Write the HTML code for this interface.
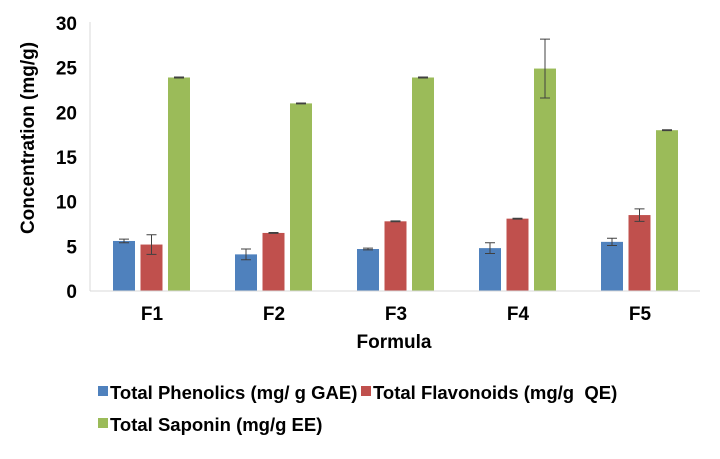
<!DOCTYPE html>
<html><head><meta charset="utf-8"><style>
body{margin:0;background:#fff;width:720px;height:454px;overflow:hidden;font-family:"Liberation Sans",Arial,sans-serif}
svg text{font-family:"Liberation Sans",Arial,sans-serif;font-weight:bold;fill:#000}
</style></head><body>
<svg id="chart" width="720" height="454" xmlns="http://www.w3.org/2000/svg"></svg>
<script>
const categories=["F1","F2","F3","F4","F5"];
const phenolics=[5.6,4.1,4.7,4.8,5.5];
const phenolicsErr=[0.2,0.6,0.1,0.6,0.4];
const flavonoids=[5.2,6.5,7.8,8.1,8.5];
const flavonoidsErr=[1.1,0.05,0.05,0.05,0.7];
const saponin=[23.9,21.0,23.9,24.9,18.0];
const saponinErr=[0.05,0.05,0.05,3.3,0.05];
const yTicks=[0,5,10,15,20,25,30];
const seriesNames=["Total Phenolics (mg/ g GAE)","Total Flavonoids (mg/g\u00a0 QE)","Total Saponin (mg/g EE)"];
const colors=["#4f81bd","#c0504d","#9bbb59"];

const svg=document.getElementById('chart');
const NS="http://www.w3.org/2000/svg";
const x0=90,x1=700,y0=291,y1=23,ymax=30;
const yS=v=>y0-(v/ymax)*(y0-y1);
const bw=(x1-x0)/categories.length;
function mk(t,a){const e=document.createElementNS(NS,t);for(const k in a)e.setAttribute(k,a[k]);svg.appendChild(e);return e;}
let ax=mk('line',{x1:x0,y1:y1-1,x2:x0,y2:y0,stroke:'#d9d9d9','stroke-width':1});


yTicks.forEach(v=>{const t=mk('text',{x:x0-13,y:yS(v)+7,'text-anchor':'end','font-size':19});t.textContent=v;

});
const series=[[phenolics,phenolicsErr],[flavonoids,flavonoidsErr],[saponin,saponinErr]];
categories.forEach((c,i)=>{
  const cx=x0+bw*i;
  series.forEach((s,j)=>{
    const bx=cx+23+j*27.5,w=22,v=s[0][i],e=s[1][i];
    const r=mk('rect',{x:bx,y:yS(v),width:w,height:y0-yS(v),fill:colors[j]});
    
    
    const mx=bx+w/2;
    const g=mk('path',{d:`M${mx},${yS(v+e)}V${yS(v-e)}M${mx-5},${yS(v+e)}H${mx+5}M${mx-5},${yS(v-e)}H${mx+5}`,stroke:'#404040','stroke-width':1,fill:'none'});
    
    
  });
  const t=mk('text',{x:cx+bw/2+1,y:320,'text-anchor':'middle','font-size':19});t.textContent=c;
  
  
});
let xa=mk('line',{x1:x0,y1:y0,x2:x1,y2:y0,stroke:'#d9d9d9','stroke-width':1});


let xt=mk('text',{x:394,y:348,'text-anchor':'middle','font-size':19});xt.textContent="Formula";


let yt=mk('text',{x:0,y:0,'text-anchor':'middle','font-size':19,transform:'translate(34,138) rotate(-90)'});yt.textContent="Concentration (mg/g)";


const leg=[[98,399],[361,399],[98,431]];
seriesNames.forEach((n,j)=>{
  const r=mk('rect',{x:leg[j][0],y:leg[j][1]-13,width:10,height:10,fill:colors[j]});
  
  
  const t=mk('text',{x:leg[j][0]+12,y:leg[j][1],'font-size':18.5});t.textContent=n;
  
  
});
</script>
</body></html>
